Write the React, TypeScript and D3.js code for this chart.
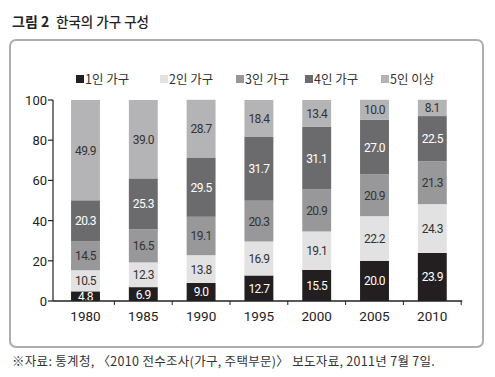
import React from "react";
import * as d3 from "d3";

const years = ["1980", "1985", "1990", "1995", "2000", "2005", "2010"];
const seriesNames = ["1인 가구", "2인 가구", "3인 가구", "4인 가구", "5인 이상"];
const p1 = [4.8, 6.9, 9.0, 12.7, 15.5, 20.0, 23.9];
const p2 = [10.5, 12.3, 13.8, 16.9, 19.1, 22.2, 24.3];
const p3 = [14.5, 16.5, 19.1, 20.3, 20.9, 20.9, 21.3];
const p4 = [20.3, 25.3, 29.5, 31.7, 31.1, 27.0, 22.5];
const p5 = [49.9, 39.0, 28.7, 18.4, 13.4, 10.0, 8.1];
const yTicks = [0, 20, 40, 60, 80, 100];

const seriesValues = [p1, p2, p3, p4, p5];
const colors = ["#231f20", "#e2e2e3", "#98989a", "#6b6b6d", "#b4b4b6"];
const textColors = ["#ffffff", "#333333", "#333333", "#ffffff", "#333333"];

const FONT = "'Noto Sans CJK KR', 'Noto Sans', sans-serif";
const NUM = "Roboto, 'Liberation Sans', sans-serif";

export default function App() {
  const W = 495, H = 377;
  const x = d3.scaleBand().domain(years).range([56.6, 461.2]).paddingInner(0.5).paddingOuter(0.25);
  const y = d3.scaleLinear().domain([0, 100]).range([301, 100]);

  const table = years.map((yr, i) => {
    const row: any = { year: yr };
    seriesNames.forEach((s, j) => (row[s] = seriesValues[j][i]));
    return row;
  });
  const stacked = d3.stack<any>().keys(seriesNames)(table);
  const step = x.step();
  const gap = (step - x.bandwidth()) / 2;
  const boundaries = years.map((yr) => (x(yr) as number) - gap).concat([(x(years[years.length - 1]) as number) + x.bandwidth() + gap]);

  const legendX = [76, 160, 236, 305, 381];

  return (
    <svg width={W} height={H} style={{ position: "absolute", left: 0, top: 0 }} fontFamily={FONT}>
      <rect x={0} y={0} width={W} height={H} fill="#fff" />
      <text x={12} y={27} fontSize={14} fontWeight={700} fill="#222">그림 2</text>
      <text x={56} y={27} fontSize={13.5} fontWeight={500} fill="#222">한국의 가구 구성</text>
      <rect x={10} y={40} width={473} height={307} rx={6} ry={6} fill="none" stroke="#adadad" strokeWidth={2} />

      {seriesNames.map((s, j) => (
        <g key={s}>
          <rect x={legendX[j]} y={75} width={8} height={8} fill={colors[j]} />
          <text x={legendX[j] + 9} y={84} fontSize={12.5} fill="#333">{s}</text>
        </g>
      ))}

      {stacked.map((layer, j) => (
        <g key={layer.key}>
          {layer.map((d, i) => {
            const bx = x(years[i]) as number;
            const y0 = y(d[0]), y1 = y(d[1]);
            const v = seriesValues[j][i];
            return (
              <g key={i}>
                <rect x={bx} y={y1} width={x.bandwidth()} height={y0 - y1} fill={colors[j]} />
                <text x={bx + x.bandwidth() / 2} y={(y0 + y1) / 2 + 4.5} textAnchor="middle" fontFamily={NUM} fontSize={12} fill={textColors[j]} letterSpacing={-0.6}>
                  {v.toFixed(1)}
                </text>
              </g>
            );
          })}
        </g>
      ))}

      {/* y axis */}
      <line x1={53} x2={53} y1={y(100)} y2={y(0)} stroke="#222" strokeWidth={1.2} />
      {yTicks.map((t) => (
        <g key={t}>
          <line x1={48} x2={53} y1={y(t)} y2={y(t)} stroke="#222" strokeWidth={1.2} />
          <text x={47} y={y(t) + 5} textAnchor="end" fontFamily={NUM} fontSize={13} fill="#222">{t}</text>
        </g>
      ))}
      {/* x axis */}
      <line x1={53} x2={boundaries[boundaries.length - 1] + 1} y1={y(0)} y2={y(0)} stroke="#222" strokeWidth={1.5} />
      {boundaries.slice(1).map((b, i) => (
        <line key={i} x1={b} x2={b} y1={y(0)} y2={y(0) + 4} stroke="#222" strokeWidth={1} />
      ))}
      {years.map((yr) => (
        <text key={yr} x={(x(yr) as number) + x.bandwidth() / 2} y={321} textAnchor="middle" fontFamily={NUM} fontSize={13.5} fill="#222">{yr}</text>
      ))}

      <text x={12} y={366} fontSize={12.5} fill="#333" letterSpacing={0.3}>※자료: 통계청, 〈2010 전수조사(가구, 주택부문)〉 보도자료, 2011년 7월 7일.</text>
    </svg>
  );
}
